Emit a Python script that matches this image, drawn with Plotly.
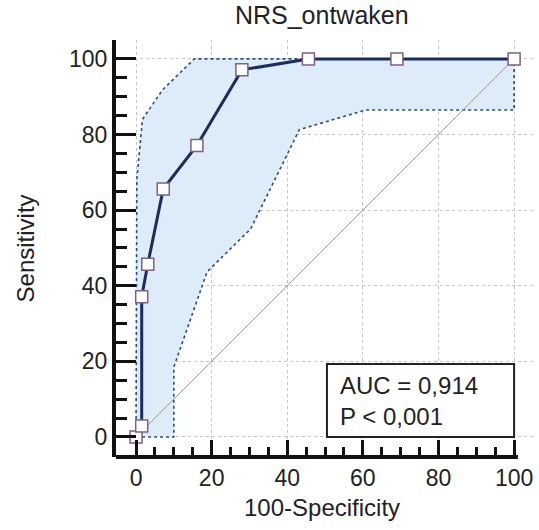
import plotly.graph_objects as go

# ROC curve points (100-Specificity, Sensitivity)
roc_x = [0, 1.5, 1.5, 3.1, 7.2, 16.1, 28.0, 45.6, 69.0, 100]
roc_y = [0, 2.9, 37.1, 45.7, 65.6, 77.1, 97.1, 100, 100, 100]

# Confidence band bounds
upper_x = [0, 0, 0.2, 1.7, 7.0, 15.4, 100]
upper_y = [0, 0, 68.0, 84.0, 91.8, 100, 100]
lower_x = [0, 10.0, 10.0, 18.8, 30.3, 43.2, 60.8, 100, 100]
lower_y = [0, 0, 18.5, 43.7, 55.0, 81.3, 86.5, 86.5, 100]

tick_vals = [0, 20, 40, 60, 80, 100]
minor_vals = [v for v in range(5, 100, 5) if v % 20 != 0]

title_text = "NRS_ontwaken"
x_title = "100-Specificity"
y_title = "Sensitivity"
auc_text = "AUC = 0,914<br>P < 0,001"

FONT = "Liberation Sans, Arial, sans-serif"
NAVY = "#1a2d5c"
TXT = "#222"

fig = go.Figure()

poly_x = upper_x + lower_x[::-1]
poly_y = upper_y + lower_y[::-1]
fig.add_trace(go.Scatter(x=poly_x, y=poly_y, mode="lines", fill="toself",
                         fillcolor="#ddecf8", line=dict(width=0),
                         hoverinfo="skip", showlegend=False))
fig.add_trace(go.Scatter(x=upper_x, y=upper_y, mode="lines",
                         line=dict(color="#2b4b85", width=1.6, dash="dot"),
                         showlegend=False))
fig.add_trace(go.Scatter(x=lower_x, y=lower_y, mode="lines",
                         line=dict(color="#2b4b85", width=1.6, dash="dot"),
                         showlegend=False))
fig.add_trace(go.Scatter(x=[0, 100], y=[0, 100], mode="lines",
                         line=dict(color="#a09aa0", width=1),
                         showlegend=False))
fig.add_trace(go.Scatter(x=roc_x, y=roc_y, mode="lines+markers",
                         line=dict(color=NAVY, width=3),
                         marker=dict(symbol="square", size=12, color="white",
                                     line=dict(color="#7e5f85", width=1.5)),
                         showlegend=False))

# AUC box
fig.add_shape(type="rect", xref="x", yref="y", x0=50.5, x1=100, y0=0, y1=19.3,
              line=dict(color=TXT, width=2), fillcolor="white", layer="above")
fig.add_annotation(x=53.5, y=9.6, xref="x", yref="y", text=auc_text,
                   showarrow=False, xanchor="left", yanchor="middle", align="left",
                   font=dict(family=FONT, size=24, color=TXT))

# bottom axis line (ends near 100)
fig.add_shape(type="line", xref="x", yref="paper", x0=-5.8, x1=101,
              y0=0, y1=0, line=dict(color="#111", width=4), layer="above")

# axis titles
fig.add_annotation(x=0.495, y=-0.12, xref="paper", yref="paper", text=x_title,
                   showarrow=False, xanchor="center", yanchor="middle",
                   font=dict(family=FONT, size=24, color=TXT))
fig.add_annotation(x=-0.216, y=0.5, xref="paper", yref="paper", text=y_title,
                   showarrow=False, xanchor="center", yanchor="middle", textangle=-90,
                   font=dict(family=FONT, size=24, color=TXT))

axis_common = dict(
    tickvals=tick_vals, ticks="inside", tickwidth=2.5, tickcolor="#111",
    showgrid=True, gridcolor="#c4c4c4", griddash="dot", gridwidth=1,
    zeroline=False, automargin=False,
    tickfont=dict(family=FONT, size=23, color=TXT),
)

fig.update_xaxes(range=[-5.3, 105], ticklen=17, showline=False,
                 minor=dict(tickvals=minor_vals, ticks="inside", ticklen=10,
                            tickwidth=2.5, tickcolor="#111", showgrid=False),
                 ticklabelstandoff=5,
                 **axis_common)
fig.update_yaxes(range=[-5.3, 105], ticklen=20, showline=True, linecolor="#111",
                 linewidth=4,
                 minor=dict(tickvals=minor_vals, ticks="inside", ticklen=11,
                            tickwidth=2.5, tickcolor="#111", showgrid=False),
                 **axis_common)

fig.update_layout(
    width=539, height=530,
    margin=dict(l=116, r=6, t=40, b=73, autoexpand=False),
    plot_bgcolor="white", paper_bgcolor="white",
    title=dict(text=title_text, x=0.597, xanchor="center", y=0.972, yanchor="middle",
               font=dict(family=FONT, size=25, color=TXT)),
    showlegend=False,
)

fig.write_html("out.html", config={"displayModeBar": False},
               post_script="document.body.style.margin='0';document.body.style.overflow='hidden';")
